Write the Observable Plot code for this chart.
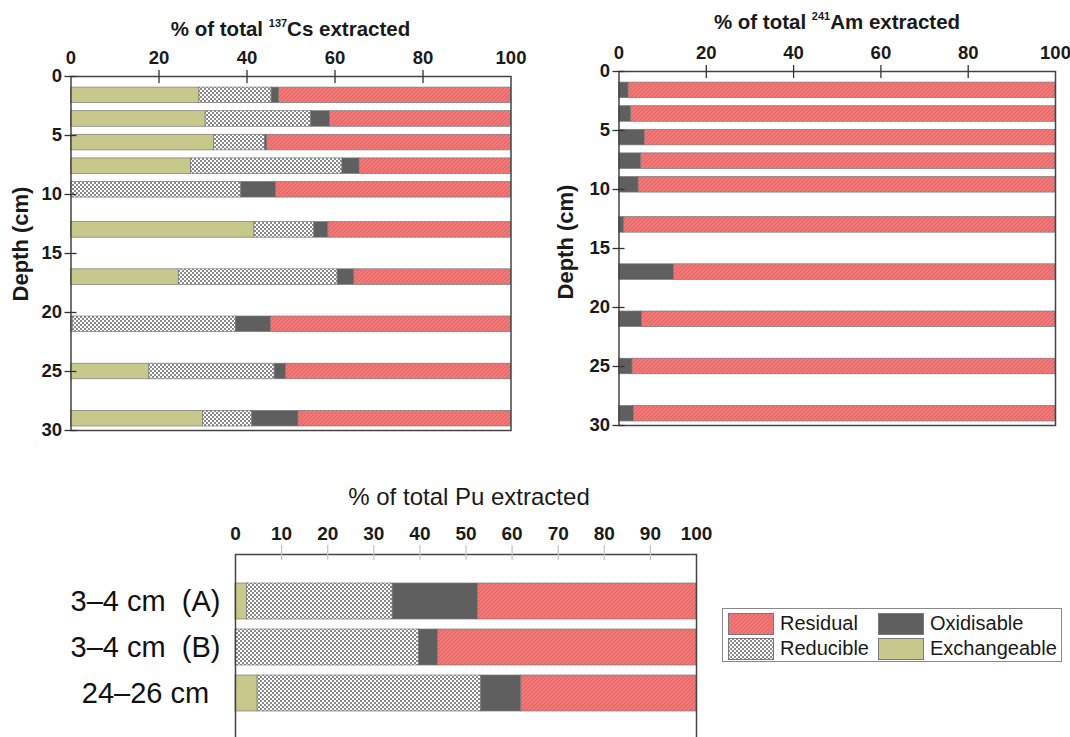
<!DOCTYPE html>
<html><head><meta charset="utf-8">
<script src="https://cdn.jsdelivr.net/npm/d3@7"></script>
<script src="https://cdn.jsdelivr.net/npm/@observablehq/plot@0.6"></script>
<style>
html,body{margin:0;padding:0}
body{width:1070px;height:737px;overflow:hidden;background:#fff;position:relative;font-family:"Liberation Sans",Arial,sans-serif;color:#1a1a1a}
.chart{position:absolute}
.title{position:absolute;transform:translate(-50%,-50%);white-space:nowrap;font-weight:bold;font-size:20.5px}
.title sup{font-size:11px;vertical-align:9px}
.ylab{position:absolute;transform:translate(-50%,-50%) rotate(-90deg);white-space:nowrap;font-weight:bold;font-size:22px}
#legend{position:absolute;left:722px;top:608px;width:338px;height:52px;border:1.5px solid #8a8a8a;box-sizing:content-box}
.lg{position:absolute;display:flex;align-items:center;font-size:20px;white-space:nowrap}
.lg svg{margin-right:6px}
</style></head><body>
<svg width="0" height="0" style="position:absolute">
<defs>
<pattern id="hatch" patternUnits="userSpaceOnUse" width="4" height="4">
<rect width="4" height="4" fill="#F27878"/>
<path d="M-1,1 l2,-2 M0,4 l4,-4 M3,5 l2,-2" stroke="#DC5E5E" stroke-width="0.8"/>
</pattern>
<pattern id="checker" patternUnits="userSpaceOnUse" width="4" height="4">
<rect width="4" height="4" fill="#ffffff"/>
<rect width="2" height="2" fill="#8a8a8a"/>
<rect x="2" y="2" width="2" height="2" fill="#8a8a8a"/>
</pattern>
</defs></svg>
<div id="root"></div>
<script>
// ---------- data ----------
const fractions = ["Exchangeable", "Reducible", "Oxidisable", "Residual"];
const depths = [1.6, 3.6, 5.6, 7.6, 9.6, 13, 17, 21, 25, 29];
const depthTicks = [0, 5, 10, 15, 20, 25, 30];
const pctTicks = [0, 20, 40, 60, 80, 100];
const puTicks = [0, 10, 20, 30, 40, 50, 60, 70, 80, 90, 100];

const csExchangeable = [29.2, 30.6, 32.5, 27.3, 0.0, 41.7, 24.5, 0.4, 17.8, 30.0];
const csReducible    = [16.4, 24.0, 11.6, 34.4, 38.7, 13.6, 36.1, 37.1, 28.5, 11.2];
const csOxidisable   = [1.7, 4.3, 0.5, 3.9, 7.9, 3.2, 3.8, 7.9, 2.6, 10.5];
const csResidual     = [52.7, 41.1, 55.4, 34.4, 53.4, 41.5, 35.6, 54.6, 51.1, 48.3];

const amExchangeable = [0, 0, 0, 0, 0, 0, 0, 0, 0, 0];
const amReducible    = [0, 0, 0, 0, 0, 0, 0, 0, 0, 0];
const amOxidisable   = [2.2, 2.8, 5.9, 5.1, 4.5, 1.2, 12.6, 5.3, 3.1, 3.4];
const amResidual     = [97.8, 97.2, 94.1, 94.9, 95.5, 98.8, 87.4, 94.7, 96.9, 96.6];

const puSamples      = ["3–4 cm\u00A0\u00A0(A)", "3–4 cm\u00A0\u00A0(B)", "24–26 cm"];
const puExchangeable = [2.5, 0.0, 4.8];
const puReducible    = [31.6, 39.8, 48.5];
const puOxidisable   = [18.5, 4.1, 8.7];
const puResidual     = [47.4, 56.1, 38.0];

// ---------- helpers ----------
const FILL = {Residual: "url(#hatch)", Reducible: "url(#checker)", Oxidisable: "#5f5f5f", Exchangeable: "#C8C88C"};
function stackRows(keys, series) {
  const rows = [];
  keys.forEach((k, i) => {
    let acc = 0;
    fractions.forEach(f => {
      const v = series[f][i];
      rows.push({key: k, fraction: f, x1: acc, x2: acc + v});
      acc += v;
    });
  });
  return rows;
}
const HALF = 0.66;
function depthBars(rows) {
  return fractions.map(f => Plot.rectX(rows.filter(r => r.fraction === f && r.x2 > r.x1), {
    x1: "x1", x2: "x2", y1: r => r.key - HALF, y2: r => r.key + HALF,
    fill: FILL[f], stroke: "#7a7a7a", strokeWidth: 0.7
  }));
}
const FONT = "'Liberation Sans', Arial, sans-serif";

function depthChart(rows, W, H, mL, mR, mT, mB) {
  const ph = H - mT - mB, pw = W - mL - mR;
  return Plot.plot({
    width: W, height: H, marginLeft: mL, marginRight: mR, marginTop: mT, marginBottom: mB,
    style: {fontFamily: FONT, fontSize: "18px", fontWeight: "bold", color: "#1a1a1a", background: "transparent", overflow: "visible"},
    x: {domain: [0, 100], axis: null},
    y: {domain: [0, 30], reverse: true, axis: null},
    marks: [
      ...depthBars(rows),
      Plot.frame({stroke: "#444", strokeWidth: 1.5}),
      Plot.ruleX(pctTicks.slice(1, -1), {x: d => d, insetBottom: ph - 13, dy: -6, stroke: "#333", strokeWidth: 1.3}),
      Plot.ruleY(depthTicks, {y: d => d, insetRight: pw - 12, dx: -6, stroke: "#333", strokeWidth: 1.3}),
      Plot.axisX(pctTicks, {anchor: "top", tickSize: 0, tickPadding: 13, fontSize: 18.5, fontWeight: "bold"}),
      Plot.axisY(depthTicks, {anchor: "left", tickSize: 0, tickPadding: 9, fontSize: 18.5, fontWeight: "bold"})
    ]
  });
}

const root = document.getElementById("root");
function place(el, left, top) {
  const d = document.createElement("div");
  d.className = "chart"; d.style.left = left + "px"; d.style.top = top + "px";
  d.appendChild(el); root.appendChild(d);
}

// Cs chart
const csRows = stackRows(depths, {Exchangeable: csExchangeable, Reducible: csReducible, Oxidisable: csOxidisable, Residual: csResidual});
place(depthChart(csRows, 530, 440, 70.5, 19.5, 76, 10), 0, 0);

// Am chart
const amRows = stackRows(depths, {Exchangeable: amExchangeable, Reducible: amReducible, Oxidisable: amOxidisable, Residual: amResidual});
place(depthChart(amRows, 530, 435, 78.5, 15, 71, 10), 540, 0);

// Pu chart
const puRows = stackRows(puSamples, {Exchangeable: puExchangeable, Reducible: puReducible, Oxidisable: puOxidisable, Residual: puResidual});
const puW = 720, puH = 260, puMT = 74, puMB = 0, puML = 235, puMR = 24;
const puPlot = Plot.plot({
  width: puW, height: puH, marginLeft: puML, marginRight: puMR, marginTop: puMT, marginBottom: puMB,
  style: {fontFamily: FONT, fontSize: "18px", color: "#1a1a1a", background: "transparent", overflow: "visible"},
  x: {domain: [0, 100], axis: null},
  y: {domain: puSamples, axis: null, paddingInner: 0.22, paddingOuter: 0.59},
  marks: [
    ...fractions.map(f => Plot.barX(puRows.filter(r => r.fraction === f && r.x2 > r.x1), {
      x1: "x1", x2: "x2", y: "key", fill: FILL[f], stroke: "#7a7a7a", strokeWidth: 0.7
    })),
    Plot.frame({stroke: "#444", strokeWidth: 1.5}),
    Plot.ruleX(puTicks.slice(1, -1), {x: d => d, insetBottom: (puH - puMT - puMB) - 15, dy: -9, stroke: "#c4c4c4", strokeWidth: 1.2}),
    Plot.axisX(puTicks, {anchor: "top", tickSize: 0, tickPadding: 15, fontSize: 19, fontWeight: "bold"}),
    Plot.text(puSamples, {y: d => d, text: d => d, frameAnchor: "left", textAnchor: "middle", dx: -90, fontSize: 29, fill: "#111"})
  ]
});
place(puPlot, 0, 480);

// titles & labels
function addDiv(cls, html, x, y, extra) {
  const d = document.createElement("div");
  d.className = cls; d.innerHTML = html; d.style.left = x + "px"; d.style.top = y + "px";
  if (extra) Object.assign(d.style, extra);
  root.appendChild(d);
}
addDiv("title", "% of total <sup>137</sup>Cs extracted", 290.5, 29);
addDiv("title", "% of total <sup>241</sup>Am extracted", 837, 22);
addDiv("title", "% of total Pu extracted", 469, 497, {fontWeight: "normal", fontSize: "24px"});
addDiv("ylab", "Depth (cm)", 21, 244);
addDiv("ylab", "Depth (cm)", 566, 242);

// legend
const legendItems = [
  {name: "Residual", left: 5, top: 3},
  {name: "Oxidisable", left: 155, top: 3},
  {name: "Reducible", left: 5, top: 28},
  {name: "Exchangeable", left: 155, top: 28}
];
const legend = document.createElement("div");
legend.id = "legend";
legendItems.forEach(it => {
  const d = document.createElement("div");
  d.className = "lg"; d.style.left = it.left + "px"; d.style.top = it.top + "px";
  d.innerHTML = `<svg width="46" height="22"><rect x="0.5" y="0.5" width="45" height="21" fill="${FILL[it.name]}" stroke="#7a7a7a" stroke-width="1"/></svg><span>${it.name}</span>`;
  legend.appendChild(d);
});
root.appendChild(legend);
</script>
</body></html>
